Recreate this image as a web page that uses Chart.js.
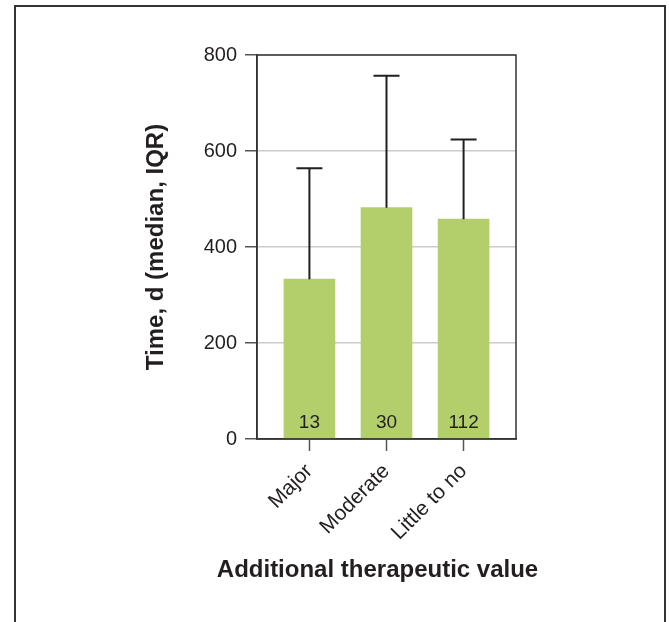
<!DOCTYPE html>
<html>
<head>
<meta charset="utf-8">
<script src="https://cdn.jsdelivr.net/npm/chart.js@4.4.0/dist/chart.umd.min.js"></script>
<style>
  html, body { margin: 0; padding: 0; background: #fff; overflow: hidden; }
  #frame { position: absolute; left: 14px; top: 5px; width: 648px; height: 700px;
           border: 2px solid #333; border-bottom: none; }
  #myChart { position: absolute; left: 0; top: 0; }
</style>
</head>
<body>
<div id="frame"></div>
<canvas id="myChart" width="669" height="622"></canvas>
<script>
const categories = ['Major', 'Moderate', 'Little to no'];
const medians = [333, 482, 458];
const upperIQR = [564, 757, 624];
const counts = ['13', '30', '112'];
const yTicks = [0, 200, 400, 600, 800];

const textColor = '#231f20';
const barColor = '#b2cf6b';

const ctx = document.getElementById('myChart');

// error bars, counts, plot box and x title
const extras = {
    id: 'extras',
    afterDatasetsDraw(chart) {
        const c = chart.ctx;
        const x = chart.scales.x;
        const y = chart.scales.y;
        c.save();
        c.strokeStyle = textColor;
        c.lineWidth = 2;
        upperIQR.forEach(function(v, i) {
            const px = x.getPixelForValue(i);
            c.beginPath();
            c.moveTo(px, y.getPixelForValue(medians[i]));
            c.lineTo(px, y.getPixelForValue(v));
            c.moveTo(px - 13, y.getPixelForValue(v));
            c.lineTo(px + 13, y.getPixelForValue(v));
            c.stroke();
        });
        c.fillStyle = textColor;
        c.font = '19px "Liberation Sans", Arial, sans-serif';
        c.textAlign = 'center';
        c.textBaseline = 'alphabetic';
        counts.forEach(function(t, i) {
            c.fillText(t, x.getPixelForValue(i), y.getPixelForValue(0) - 11);
        });
        const a = chart.chartArea;
        c.strokeStyle = '#333';
        c.lineWidth = 1.5;
        c.strokeRect(a.left, a.top, a.right - a.left, a.bottom - a.top);
        c.font = 'bold 24px "Liberation Sans", Arial, sans-serif';
        c.textBaseline = 'middle';
        c.fillText('Additional therapeutic value', (a.left + a.right) / 2 - 9, 570);
        c.restore();
    }
};

const myChart = new Chart(ctx, {
    type: 'bar',
    data: {
        datasets: [{
            data: medians.map((v, i) => ({x: i, y: v})),
            backgroundColor: barColor,
            barThickness: 51
        }]
    },
    options: {
        responsive: false,
        animation: false,
        layout: {
            padding: {left: 138, right: 153, top: 55, bottom: 0}
        },
        scales: {
            x: {
                type: 'linear',
                min: -0.68,
                max: 2.68,
                offset: false,
                afterFit: function(scale) { scale.height = 183; },
                afterBuildTicks: function(scale) {
                    scale.ticks = categories.map((c, i) => ({value: i}));
                },
                ticks: {
                    color: textColor,
                    font: {size: 21, family: '"Liberation Sans", Arial, sans-serif'},
                    minRotation: 45,
                    maxRotation: 45,
                    autoSkip: false,
                    padding: 8,
                    callback: function(v) { return categories[v]; }
                },
                grid: {
                    offset: false,
                    drawOnChartArea: false,
                    tickLength: 12,
                    tickColor: '#555',
                    tickWidth: 1.5
                },
                border: {color: '#333', width: 1.5}
            },
            y: {
                min: 0,
                max: 800,
                afterFit: function(scale) { scale.width = 119; },
                afterBuildTicks: function(scale) {
                    scale.ticks = yTicks.map(v => ({value: v}));
                },
                ticks: {
                    color: textColor,
                    font: {size: 20, family: '"Liberation Sans", Arial, sans-serif'},
                    padding: 8
                },
                grid: {
                    color: '#cccccc',
                    lineWidth: 1.5,
                    tickLength: 12,
                    tickColor: '#555',
                    tickWidth: 1.5
                },
                border: {color: '#333', width: 1.5},
                title: {
                    display: true,
                    text: 'Time, d (median, IQR)',
                    color: textColor,
                    font: {size: 24, weight: 'bold', family: '"Liberation Sans", Arial, sans-serif'},
                    padding: {top: 4, bottom: 0}
                }
            }
        },
        plugins: {
            legend: {display: false},
            tooltip: {enabled: false}
        }
    },
    plugins: [extras]
});
</script>
</body>
</html>
